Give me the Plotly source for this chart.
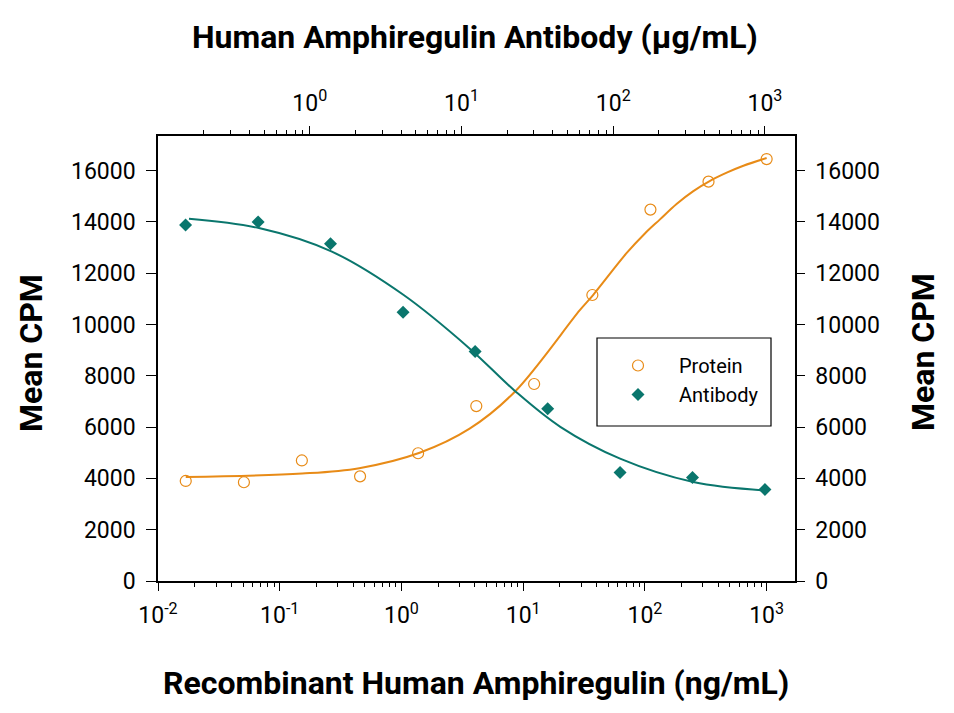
import plotly.graph_objects as go

# Protein: recombinant human amphiregulin (ng/mL), bottom axis
protein_conc = [0.0169, 0.0508, 0.152, 0.457, 1.37, 4.12, 12.3, 37.0, 111, 333, 1000]
protein_cpm = [3900, 3850, 4700, 4080, 4980, 6820, 7680, 11150, 14480, 15570, 16450]
protein_fit_conc = [0.0169, 0.153, 0.45, 1.41, 3.63, 8.5, 29.2, 37.5, 70.6, 100, 133,
                    182, 250, 343, 470, 644, 1000]
protein_fit_cpm = [4050, 4190, 4400, 5000, 5940, 7370, 10560, 11150, 12780, 13550, 14100,
                   14700, 15200, 15600, 15920, 16190, 16490]

# Antibody: human amphiregulin antibody (ug/mL), top axis
antibody_conc = [0.152, 0.457, 1.37, 4.12, 12.3, 37.0, 111, 333, 1000]
antibody_cpm = [13880, 14000, 13150, 10480, 8950, 6720, 4230, 4040, 3570]
antibody_fit_conc = [0.16, 0.47, 1.4, 4.16, 11.4, 22.6, 44.8, 111, 337, 1000]
antibody_fit_cpm = [14120, 13750, 12840, 11150, 9050, 7400, 6010, 4770, 3860, 3530]

y_ticks = [0, 2000, 4000, 6000, 8000, 10000, 12000, 14000, 16000]
y_labels = [str(v) for v in y_ticks]
bottom_decades = [0.01, 0.1, 1, 10, 100, 1000]
bottom_labels = ["10<sup>-2</sup>", "10<sup>-1</sup>", "10<sup>0</sup>", "10<sup>1</sup>",
                 "10<sup>2</sup>", "10<sup>3</sup>"]
top_decades = [1, 10, 100, 1000]
top_labels = ["10<sup>0</sup>", "10<sup>1</sup>", "10<sup>2</sup>", "10<sup>3</sup>"]

ORANGE = "#E88B17"
TEAL = "#0A766D"
FONT = "Roboto, sans-serif"
TITLE_SIZE = 32
TICK_SIZE = 23

# plot area in page pixels
L, R, T, B = 158, 795, 136, 581
pw, ph = R - L, B - T


def minor_vals(lo_exp, hi_exp):
    return [m * 10 ** e for e in range(lo_exp, hi_exp) for m in range(2, 10)]


def px_x(px):
    return (px - L) / pw


def px_y(py):
    return (B - py) / ph


fig = go.Figure()

# fitted curves
fig.add_trace(go.Scatter(x=protein_fit_conc, y=protein_fit_cpm, mode="lines",
                         line=dict(color=ORANGE, width=2, shape="spline", smoothing=1),
                         showlegend=False, hoverinfo="skip"))
fig.add_trace(go.Scatter(x=antibody_fit_conc, y=antibody_fit_cpm, mode="lines",
                         xaxis="x2", yaxis="y2",
                         line=dict(color=TEAL, width=2, shape="spline", smoothing=1),
                         showlegend=False, hoverinfo="skip"))

# data points
fig.add_trace(go.Scatter(x=protein_conc, y=protein_cpm, mode="markers", name="Protein",
                         marker=dict(symbol="circle-open", size=11, color=ORANGE,
                                     line=dict(width=1.2, color=ORANGE))))
fig.add_trace(go.Scatter(x=antibody_conc, y=antibody_cpm, mode="markers", name="Antibody",
                         xaxis="x2", yaxis="y2",
                         marker=dict(symbol="diamond", size=10, color=TEAL)))

axis_common = dict(showline=True, linecolor="black", linewidth=1.5, showgrid=False,
                   zeroline=False, ticks="outside", tickcolor="black", tickwidth=1.2,
                   tickfont=dict(family=FONT, size=TICK_SIZE, color="black"))

fig.update_layout(
    width=954, height=713,
    margin=dict(l=L, r=954 - R, t=T, b=713 - B),
    paper_bgcolor="white", plot_bgcolor="white",
    font=dict(family=FONT, color="black"),
    xaxis=dict(type="log", range=[-2, 3.233], tickmode="array",
               tickvals=bottom_decades, ticktext=bottom_labels, ticklen=8,
               ticklabelstandoff=5,
               minor=dict(tickmode="array", tickvals=minor_vals(-2, 3), ticks="outside",
                          ticklen=4, tickcolor="black", tickwidth=1),
               **axis_common),
    xaxis2=dict(type="log", range=[-1, 3.198], overlaying="x", side="top",
                anchor="y", tickmode="array", tickvals=top_decades, ticktext=top_labels,
                ticklen=8, ticklabelstandoff=6,
                minor=dict(tickmode="array", tickvals=minor_vals(-1, 3), ticks="outside",
                           ticklen=4, tickcolor="black", tickwidth=1),
                **axis_common),
    yaxis=dict(range=[0, 17350], tickmode="array", tickvals=y_ticks, ticktext=y_labels,
               ticklen=10, ticklabelstandoff=6, **axis_common),
    yaxis2=dict(range=[0, 17350], overlaying="y", side="right", anchor="x",
                tickmode="array", tickvals=y_ticks, ticktext=y_labels, ticklen=8,
                ticklabelstandoff=6, **axis_common),
    legend=dict(x=px_x(597), y=px_y(346), xanchor="left", yanchor="top",
                bgcolor="rgba(0,0,0,0)", borderwidth=0,
                itemwidth=72, tracegroupgap=0,
                font=dict(family=FONT, size=20, color="black")),
)

# legend frame
fig.add_shape(type="rect", xref="paper", yref="paper",
              x0=px_x(597), x1=px_x(771), y0=px_y(426), y1=px_y(338),
              line=dict(color="black", width=1.2), fillcolor="white", layer="above")

# titles, placed by page pixel centre
titles = [
    ("<b>Recombinant Human Amphiregulin (ng/mL)</b>", 476, 683, 0),
    ("<b>Human Amphiregulin Antibody (\u00b5g/mL)</b>", 475, 37, 0),
    ("<b>Mean CPM</b>", 31, 353, -90),
    ("<b>Mean CPM</b>", 923, 352, -90),
]
for text, px, py, angle in titles:
    fig.add_annotation(text=text, x=px_x(px), y=px_y(py),
                       xref="paper", yref="paper", xanchor="center", yanchor="middle",
                       textangle=angle, showarrow=False,
                       font=dict(family=FONT, size=TITLE_SIZE, color="black"))

fig.write_html("out.html", config={"displayModeBar": False},
               post_script="document.body.style.margin='0';")
